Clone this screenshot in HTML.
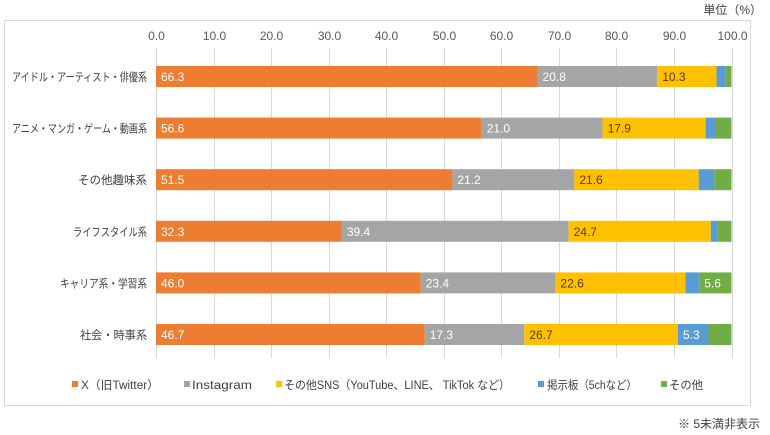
<!DOCTYPE html>
<html><head><meta charset="utf-8"><style>
body{margin:0;background:#fff;}
svg{display:block;font-family:"Liberation Sans","Noto Sans CJK JP",sans-serif;}
</style></head><body>
<svg width="770" height="435" xmlns="http://www.w3.org/2000/svg">
<rect x="0" y="0" width="770" height="435" fill="#fff"/>
<rect x="4.5" y="20.5" width="746" height="385" fill="#fff" stroke="#d9d9d9"/>
<text x="762" y="14" font-size="12" fill="#404040" text-anchor="end">単位（%）</text>
<g id="grid" stroke="#d9d9d9" stroke-width="1"></g>
<g id="ticks" font-size="12" fill="#595959" text-anchor="middle"></g>
<g id="bars"></g>
<g font-size="11.5" fill="#404040" lengthAdjust="spacingAndGlyphs">
<rect x="72" y="381" width="6" height="6" fill="#ED7D31"/><text x="81" y="389" textLength="78" lengthAdjust="spacingAndGlyphs">X（旧Twitter）</text>
<rect x="184" y="381" width="6" height="6" fill="#A5A5A5"/><text x="192" y="389" textLength="60" lengthAdjust="spacingAndGlyphs">Instagram</text>
<rect x="276" y="381" width="6" height="6" fill="#FFC000"/><text x="284" y="389" textLength="226" lengthAdjust="spacingAndGlyphs">その他SNS（YouTube、LINE、 TikTok など）</text>
<rect x="538" y="381" width="6" height="6" fill="#5B9BD5"/><text x="547" y="389" textLength="90" lengthAdjust="spacingAndGlyphs">掲示板（5chなど）</text>
<rect x="661" y="381" width="6" height="6" fill="#70AD47"/><text x="669" y="389" textLength="34" lengthAdjust="spacingAndGlyphs">その他</text>
</g>
<text x="760" y="428" font-size="12" fill="#404040" text-anchor="end">※ 5未満非表示</text>
</svg>
<script>
const ns="http://www.w3.org/2000/svg";
const x0=156,sc=5.755;
const g=document.getElementById('grid'),t=document.getElementById('ticks'),b=document.getElementById('bars');
function el(p,n,a,txt){const e=document.createElementNS(ns,n);for(const k in a)e.setAttribute(k,a[k]);if(txt!=null)e.textContent=txt;p.appendChild(e);return e;}
for(let i=0;i<=10;i++){const x=Math.round(x0+i*10*sc)+0.5;el(g,'line',{x1:x,x2:x,y1:48,y2:358});el(t,'text',{x:x,y:40},(i*10).toFixed(1));}
const cats=["アイドル・アーティスト・俳優系","アニメ・マンガ・ゲーム・動画系","その他趣味系","ライフスタイル系","キャリア系・学習系","社会・時事系"];
const widths=[135,135,69,74,87,67];
const data=[[66.3,20.8,10.3,1.6,1.0],[56.6,21.0,17.9,1.8,2.7],[51.5,21.2,21.6,2.7,3.0],[32.3,39.4,24.7,1.2,2.4],[46.0,23.4,22.6,2.4,5.6],[46.7,17.3,26.7,5.3,4.0]];
const cols=["#ED7D31","#A5A5A5","#FFC000","#5B9BD5","#70AD47"];
const tc=["#fff","#fff","#5a3d00","#fff","#fff"];
data.forEach((r,i)=>{const y=66+i*51.6;let acc=0;
el(b,'text',{x:147-widths[i],y:y+15,'font-size':11.5,fill:'#404040',textLength:widths[i],lengthAdjust:'spacingAndGlyphs'},cats[i]);
r.forEach((v,j)=>{const xa=x0+acc*sc;el(b,'rect',{x:xa,y:y,width:v*sc,height:21,fill:cols[j]});
if(v>=5)el(b,'text',{x:xa+5,y:y+15,'font-size':12,fill:tc[j]},v.toFixed(1));acc+=v;});});
</script>
</body></html>
